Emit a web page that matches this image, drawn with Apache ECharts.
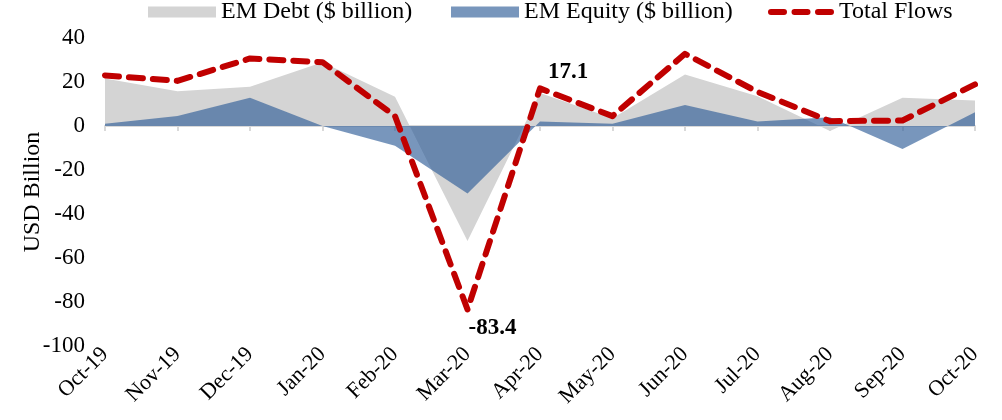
<!DOCTYPE html>
<html>
<head>
<meta charset="utf-8">
<script src="https://cdn.jsdelivr.net/npm/echarts@6/dist/echarts.min.js"></script>
<style>
  html, body { margin: 0; padding: 0; background: #fff; }
  #main { width: 1002px; height: 420px; }
</style>
</head>
<body>
<div id="main"></div>
<script>
// months on the x axis
var months = ['Oct-19', 'Nov-19', 'Dec-19', 'Jan-20', 'Feb-20', 'Mar-20', 'Apr-20',
  'May-20', 'Jun-20', 'Jul-20', 'Aug-20', 'Sep-20', 'Oct-20'];
var debt = [21.6, 15.8, 17.8, 29, 13.3, -52.3, 15, 3.5, 23.4, 13.5, -2.3, 12.8, 11.6];
var equity = [1, 4.5, 12.8, 0, -9, -30.7, 2, 1, 9.5, 2, 4, -10.4, 6.3];
var total = [23, 20.5, 30.7, 29, 4.5, -83.4, 17.1, 4.5, 32.8, 15.5, 2.2, 2.5, 18.9];
var yTicks = { min: -100, max: 40, step: 20 };

var font = "'Liberation Serif', 'Times New Roman', serif";

var main = document.getElementById('main');
var myChart = echarts.init(main);

// only the two extremes get a label
var totalData = total.map(function (v, i) {
  if (i === 5) {
    return { value: v, label: { show: true, position: 'bottom', distance: 7, offset: [25, 0], formatter: '{c}' } };
  }
  if (i === 6) {
    return { value: v, label: { show: true, position: 'top', distance: 5, offset: [28, 0], formatter: '{c}' } };
  }
  return v;
});

var legendText = { fontFamily: font, fontSize: 24, color: '#000' };
// three short dashes for the Total Flows legend
var dashIcon = 'path://M3,0h13a3,3 0 0 1 0,6h-13a3,3 0 0 1 0,-6z' +
  'M26.5,0h13a3,3 0 0 1 0,6h-13a3,3 0 0 1 0,-6z' +
  'M50,0h13a3,3 0 0 1 0,6h-13a3,3 0 0 1 0,-6z';

var option = {
  animation: false,
  legend: [
    { data: ['EM Debt ($ billion)'], left: 148, top: 0, padding: 0, icon: 'rect',
      itemWidth: 68, itemHeight: 11, itemGap: 0, textStyle: legendText },
    { data: ['EM Equity ($ billion)'], left: 451, top: 0, padding: 0, icon: 'rect',
      itemWidth: 68, itemHeight: 11, itemGap: 0, textStyle: legendText },
    { data: [{ name: 'Total Flows', icon: dashIcon }], left: 768, top: 0, padding: 0,
      itemWidth: 66, itemHeight: 6, itemGap: 0, textStyle: legendText }
  ],
  grid: { left: 105, right: 27, top: 38, bottom: 74 },
  xAxis: [
    {
      type: 'category',
      data: months,
      boundaryGap: false,
      position: 'bottom',
      axisLine: { show: false, onZero: false },
      axisTick: { show: false },
      axisLabel: { rotate: 45, margin: 5, fontFamily: font, fontSize: 22, color: '#000' }
    },
    {
      type: 'category',
      data: months,
      boundaryGap: false,
      position: 'top',
      axisLine: { show: true, onZero: true, lineStyle: { color: '#D9D9D9', width: 2 } },
      axisTick: { show: true, inside: true, length: 5, lineStyle: { color: '#D9D9D9', width: 2 } },
      axisLabel: { show: false }
    }
  ],
  yAxis: {
    type: 'value',
    min: yTicks.min,
    max: yTicks.max,
    interval: yTicks.step,
    name: 'USD Billion',
    nameLocation: 'middle',
    nameGap: 60,
    nameMoveOverlap: false,
    nameTextStyle: { fontFamily: font, fontSize: 24, color: '#000' },
    axisLine: { show: false },
    axisTick: { show: false },
    splitLine: { show: false },
    axisLabel: { margin: 20, fontFamily: font, fontSize: 23, color: '#000' }
  },
  series: [
    {
      name: 'EM Debt ($ billion)',
      type: 'line',
      data: debt,
      color: '#D4D4D4',
      symbol: 'none',
      lineStyle: { width: 0 },
      areaStyle: { color: '#D4D4D4', opacity: 1 },
      z: 1
    },
    {
      name: 'EM Equity ($ billion)',
      type: 'line',
      data: equity,
      color: 'rgba(47,94,152,0.65)',
      symbol: 'none',
      lineStyle: { width: 0 },
      areaStyle: { color: 'rgba(47,94,152,0.65)', opacity: 1 },
      z: 2
    },
    {
      name: 'Total Flows',
      type: 'line',
      data: totalData,
      color: '#C00000',
      symbol: 'circle',
      symbolSize: 0,
      showAllSymbol: true,
      lineStyle: { color: '#C00000', width: 6, type: [14, 10], cap: 'round', join: 'round' },
      label: { fontFamily: font, fontSize: 23, fontWeight: 'bold', color: '#000' },
      z: 3
    }
  ]
};

myChart.setOption(option);
</script>
</body>
</html>
